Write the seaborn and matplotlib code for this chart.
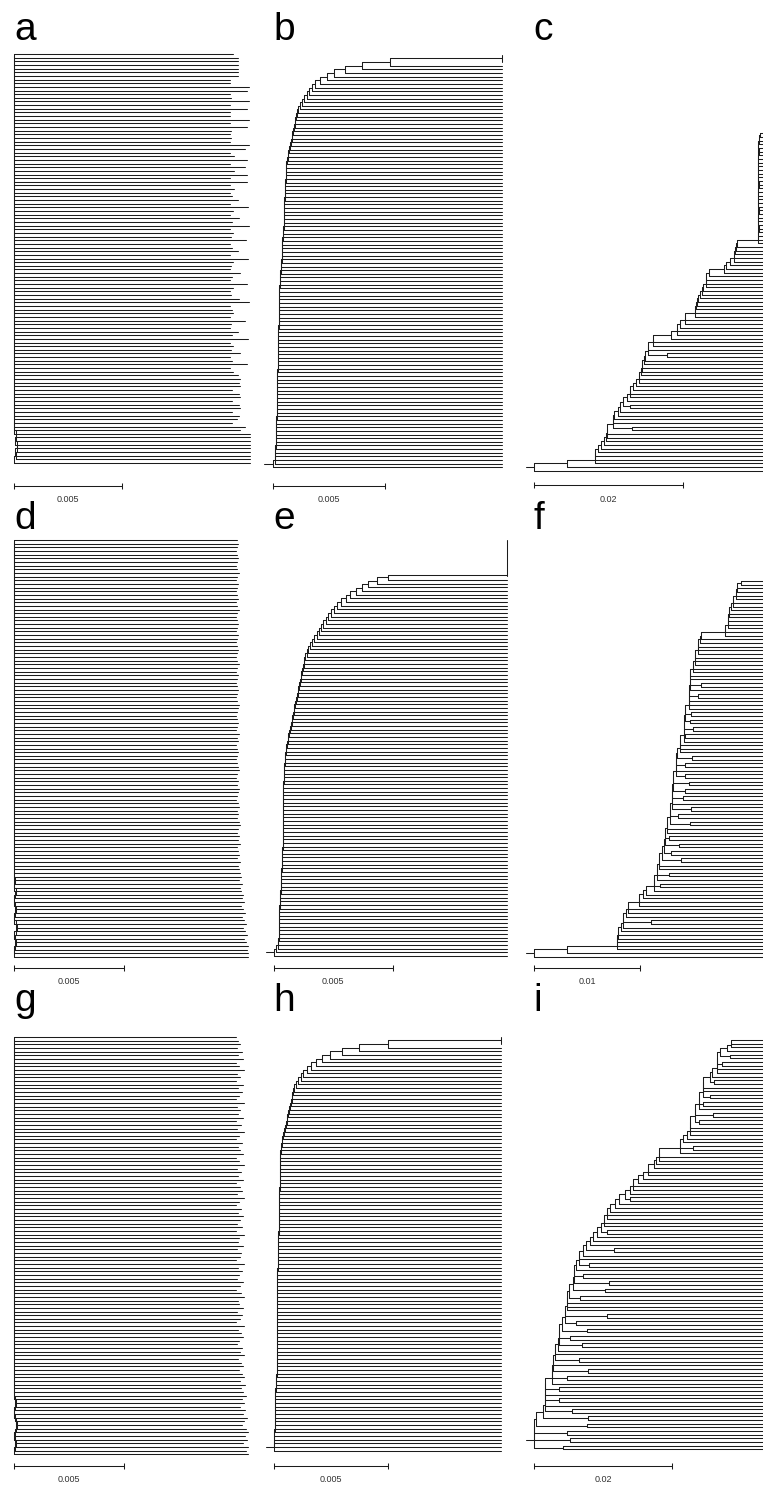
import matplotlib
matplotlib.use("Agg")
import matplotlib.pyplot as plt
import numpy as np
import pandas as pd
import seaborn as sns

# ---------------------------------------------------------------------------
# Tree data. Every tree is drawn as a pectinate ladder:
# leaves top to bottom, NODE[k] is the depth where unit k+1 joins the clade
# above it, TIP the depth of the leaf tips. Units listed in *_CHERRY_AT are a
# pair of sister leaves that split at depth *_CHERRY_X.
# a, b, d, e, g, h in 1e-5 substitutions/site; c, f, i in 1e-4.
# ---------------------------------------------------------------------------

# panel a
A_TIP = [1014, 1037, 1037, 1037, 1037, 1037, 1037, 1000, 1000, 1088, 1079, 1000, 1005,
         1088, 1000, 1079, 1000, 1000, 1088, 1000, 1079, 1005, 1000, 1005, 1000, 1088,
         1070, 1000, 1019, 1079, 1000, 1070, 1019, 1079, 1000, 1079, 1000, 1019, 1000,
         1009, 1037, 1000, 1083, 1014, 1000, 1042, 1009, 1088, 1000, 1014, 1005, 1074,
         1000, 1009, 1037, 1000, 1083, 1014, 1005, 1000, 1046, 1009, 1000, 1079, 1014,
         1000, 1005, 1042, 1088, 1000, 1009, 1014, 1000, 1070, 1005, 1000, 1037, 1009,
         1083, 1000, 1014, 1005, 1046, 1000, 1009, 1079, 1000, 1014, 1037,
         1046, 1042, 1046, 1009, 1042, 1046, 1009, 1042, 1046, 1009, 1042, 1032, 1009,
         1070, 1046, 1093, 1093, 1093, 1093, 1093, 1093, 1093, 1093, 1093]
A_NODE = [0] * 103 + [0, 9, 9, 5, 12, 12, 5, 9, 0]

# panel b
B_TIP = 1022
B_NODE = [522, 397, 321, 272, 241, 210, 187, 174, 161, 150, 140, 131, 121, 113, 106,
          103, 99, 96, 93, 89, 86, 83, 79, 76, 73, 69, 66, 63, 59,
          58, 57, 57, 56, 55, 54, 54, 53, 52, 51, 51, 50, 49, 49,
          48, 47, 47, 45, 44, 44, 42, 41, 40, 39, 38, 38, 36, 35, 34, 33, 32, 31, 30,
          29, 28, 27,
          27, 27, 26, 26, 26, 25, 25, 25, 24, 24, 24, 23, 23, 23, 22, 22, 22, 21, 21,
          21, 20, 20, 20, 19, 19, 19, 18, 18,
          18, 17, 17, 16, 16, 15, 15, 14, 14, 13, 13, 12, 12, 11, 11, 10, 9,
          0]

# panel c
C_TIP = 315
C_NODE = [303, 302, 301,
          300, 300, 301, 300, 300, 300, 300, 300, 300, 300, 300, 301, 300, 300, 300,
          300, 300, 300, 301, 300, 300, 300, 300, 301, 300, 300, 300,
          272, 271, 269, 268, 268, 263, 257, 255, 234, 231, 231, 230, 227, 225, 222,
          220, 218, 217, 216, 216, 202, 202, 196, 192, 192, 184, 159, 159, 153,
          153,
          149, 147, 145, 145, 143, 140, 140, 136, 133, 128, 128, 124,
          119,
          115, 113, 107, 105,
          105,
          98, 98, 96, 93, 89, 86, 81, 81, 81, 44, 0]
C_CHERRY_AT = [59, 72, 77]
C_CHERRY_X = [178, 128, 131]

# panel d
D_TIP = [1014, 1018, 1014, 1009, 1014, 1018, 1014, 1009, 1014, 1023, 1014, 1009, 1018,
         1014, 1009, 1014, 1018, 1009, 1014, 1023, 1014, 1009, 1014, 1018, 1014, 1009,
         1018, 1014, 1009, 1014,
         1018, 1014, 1009, 1014, 1023, 1014, 1009, 1018, 1014, 1009, 1014, 1018, 1014,
         1009, 1014, 1023, 1018, 1014, 1009, 1014, 1018, 1014, 1009, 1023, 1014, 1018,
         1009, 1014, 1018, 1014,
         1009, 1014, 1018, 1023, 1014, 1009, 1018, 1014, 1023, 1018, 1014, 1009, 1018,
         1023, 1014, 1018, 1014, 1023, 1027, 1018, 1014, 1023, 1018, 1027, 1014, 1018,
         1023, 1014, 1027, 1018,
         1023, 1027, 1032, 1023, 1036, 1027, 1032, 1041, 1036, 1045, 1032, 1041, 1050,
         1036, 1045, 1054, 1041, 1050, 1059, 1045, 1054, 1064, 1059, 1064, 1064]
D_NODE = [0] * 92 + [0, 5, 0, 0, 9, 5, 0, 0, 5, 9, 5, 0, 0, 9, 14, 9, 0, 5, 9, 5, 0, 0]

# panel e
E_TIP = 981
E_NODE = [479, 435, 397, 369, 344, 320, 302, 282, 267, 253, 240, 229, 218, 208, 198,
          188, 180, 170, 161, 152, 144, 138, 131,
          128, 125, 122, 118, 115, 112, 109, 106, 102, 99, 96, 93, 90, 86, 83, 80, 77,
          74, 70, 67, 64, 61, 58, 55, 52, 49, 46,
          45, 45, 44, 43, 42, 42, 41, 40, 40, 39,
          39, 38, 38, 38, 37, 37, 37, 37, 37, 36, 36, 36, 36, 36, 36, 35, 35, 35,
          34, 33, 32, 31, 31, 30, 29, 29, 28,
          27, 26, 25, 24, 23, 23, 22, 21, 21,
          20, 20, 19, 19, 18, 18,
          8, 0]

# panel f
F_TIP = 225
F_NODE = [196, 192, 192, 191, 191, 188, 188, 186, 184, 184, 183, 183, 183, 180, 180,
          158, 157, 155, 155, 155, 152, 152, 152, 150, 150, 147, 147,
          147, 147, 146, 146, 146, 146, 143, 143, 142, 142, 142, 138, 138, 138, 135,
          134, 134, 134, 131, 131, 130, 130, 130, 128, 128, 126, 126, 124, 124, 123,
          121, 118, 118, 116, 116, 113, 113, 106, 103, 99, 99, 89, 89, 87, 84, 84, 82,
          79, 79, 78, 78, 78, 31, 0]
F_CHERRY_AT = [27, 29, 33, 34, 35, 36, 41, 42, 44, 45, 46, 47, 49, 50, 51, 54, 55, 56,
               57, 60, 62, 71]
F_CHERRY_X = [158, 155, 148, 147, 150, 143, 149, 143, 143, 146, 143, 141, 148, 136, 147,
              127, 137, 129, 139, 127, 119, 110]

# panel g
G_TIP = [1009, 1018, 1027, 1014, 1036, 1018, 1041, 1009, 1023, 1045, 1014, 1027, 1009,
         1041, 1018, 1036, 1023, 1009, 1045, 1014, 1027, 1018, 1041, 1009, 1032, 1014,
         1045, 1023, 1009, 1036,
         1018, 1027, 1041, 1009, 1023, 1045, 1014, 1032, 1018, 1041, 1009, 1027, 1036,
         1014, 1045, 1023, 1009, 1032, 1018, 1041, 1027, 1014, 1036, 1009, 1045, 1023,
         1018, 1041, 1014, 1032,
         1027, 1009, 1045, 1018, 1036, 1023, 1014, 1041, 1027, 1009, 1032, 1045, 1018,
         1023, 1041, 1014, 1036, 1027, 1009, 1045, 1018, 1032, 1041, 1023, 1014, 1036,
         1027, 1045, 1018, 1032,
         1041, 1023, 1036, 1045, 1027, 1050, 1032, 1041, 1054, 1036, 1045, 1027, 1050,
         1041, 1059, 1045, 1036, 1054, 1064, 1050, 1059, 1041, 1064, 1054, 1064]
G_NODE = [0] * 98 + [0, 5, 9, 5, 0, 0, 5, 9, 14, 9, 5, 0, 5, 9, 5, 0]

# panel h
H_TIP = 997
H_NODE = [500, 374, 298, 246, 210, 185, 161, 144, 129, 117, 107, 97, 88,
          85, 81, 78, 74, 70, 67, 63, 59, 56, 52, 48, 44, 41, 37, 33, 29,
          29, 28, 28, 27, 27, 27, 26, 26, 26, 25, 25, 24, 24, 24, 23, 23, 22, 22,
          22, 21, 21, 20, 20, 19, 19, 18, 18, 17, 16,
          16, 16, 16, 16, 15, 15, 15, 15, 15, 15, 14, 14, 14, 14, 14, 14, 14, 14, 13,
          13, 13, 13, 13, 13, 13, 13, 13, 12, 12, 12, 12, 12,
          11, 10, 9, 8, 7, 6,
          6, 5, 5, 4, 4, 4, 3, 3, 3,
          3, 2, 2, 1, 1,
          0]

# panel i
I_TIP = 345
I_NODE = [285, 285, 279, 269, 265, 265, 265, 257, 254, 245, 245, 245, 239, 239, 233,
          233, 226, 226, 226, 221, 216, 211, 211, 181, 181, 177, 173, 165, 165, 158,
          151, 143, 143, 138, 131, 123, 117, 110, 106, 106, 101, 101, 96, 91, 85, 81,
          75, 70, 65, 65, 61, 58, 58, 56, 51, 47, 47, 47, 44, 44, 40, 36, 36, 35, 30,
          30, 27, 27, 25, 25, 16, 16, 16, 16, 16, 12, 3, 0, 0, 0]
I_CHERRY_AT = [3, 4, 8, 11, 12, 14, 15, 21, 34, 42, 46, 49, 51, 52, 53, 54, 58, 59, 60,
               61, 62, 65, 67, 68, 70, 72, 74, 75, 76, 77, 78, 79]
I_CHERRY_X = [284, 272, 260, 254, 245, 259, 239, 230, 138, 106, 115, 79, 71, 108, 102,
              66, 105, 60, 76, 52, 69, 65, 78, 48, 36, 36, 54, 78, 76, 47, 52, 41]

SCALE_TEXT = {"a": "0.005", "b": "0.005", "c": "0.02",
              "d": "0.005", "e": "0.005", "f": "0.01",
              "g": "0.005", "h": "0.005", "i": "0.02"}
SCALE_LEN = {"a": 0.005, "b": 0.005, "c": 0.02,
             "d": 0.005, "e": 0.005, "f": 0.01,
             "g": 0.005, "h": 0.005, "i": 0.02}

# ---------------------------------------------------------------------------
# layout (pixels of the 763 x 1486 figure)
# ---------------------------------------------------------------------------
W, H = 763, 1486
COLS = [(0, 258), (258, 518), (518, 763)]
ROWS = [(46, 512), (532, 995), (1028, 1486)]
LABEL_Y = [40, 529, 1011]
LABEL_X = [14, 273, 533]
BAR_Y = [485.5, 968, 1466]
BAR_TEXT_Y = [499, 982, 1479]

PANELS = [
    # label, col, row, unit, node, tip, cherry_at, cherry_x, top_rows, attach, stub,
    # root_px, bar_px, first leaf px, leaf step px
    dict(label="a", col=0, row=0, unit=1e-5, node=A_NODE, tip=A_TIP,
         root=14, bar=108, y0=54, step=3.652),
    dict(label="b", col=1, row=0, unit=1e-5, node=B_NODE, tip=B_TIP, top_rows=3,
         attach=1, stub=40, root=273, bar=112, y0=54.7, step=3.652),
    dict(label="c", col=2, row=0, unit=1e-4, node=C_NODE, tip=C_TIP,
         cherry_at=C_CHERRY_AT, cherry_x=C_CHERRY_X, stub=11,
         root=534.3, bar=149, y0=133.3, step=3.667),
    dict(label="d", col=0, row=1, unit=1e-5, node=D_NODE, tip=D_TIP,
         root=14, bar=110, y0=540, step=3.658),
    dict(label="e", col=1, row=1, unit=1e-5, node=E_NODE, tip=E_TIP, top_rows=11,
         attach=9.5, stub=34, root=274, bar=118.7, y0=540, step=3.649),
    dict(label="f", col=2, row=1, unit=1e-4, node=F_NODE, tip=F_TIP,
         cherry_at=F_CHERRY_AT, cherry_x=F_CHERRY_X, stub=8,
         root=534.3, bar=105.7, y0=581, step=3.648),
    dict(label="g", col=0, row=2, unit=1e-5, node=G_NODE, tip=G_TIP,
         root=14, bar=110, y0=1037, step=3.66),
    dict(label="h", col=1, row=2, unit=1e-5, node=H_NODE, tip=H_TIP, top_rows=3,
         attach=1, stub=35, root=274, bar=113.7, y0=1036.7, step=3.664),
    dict(label="i", col=2, row=2, unit=1e-4, node=I_NODE, tip=I_TIP,
         cherry_at=I_CHERRY_AT, cherry_x=I_CHERRY_X, stub=12,
         root=534.3, bar=138, y0=1040, step=3.655),
]

LINE_COLOR = "#1c1c1c"


def tree_segments(node, tip, cherry_at=(), cherry_x=(), top_rows=1, attach=0.0, stub=0):
    """Segments (x0, y0, x1, y1) of a rectangular ladder tree, y in leaf rows."""
    def tip_of(r):
        return tip[r] if np.ndim(tip) else tip

    split = dict(zip(cherry_at, cherry_x))
    segs = []
    t0 = tip_of(0)
    if top_rows > 1:
        segs.append((t0, 0, t0, top_rows - 1))
    clade_y = attach
    row = top_rows
    prev = None
    for k, nx in enumerate(node):
        cx = split.get(k)
        uy = row + 0.5 if cx is not None else row
        segs.append((nx, clade_y, nx, uy))
        segs.append((nx, clade_y, t0 if prev is None else prev, clade_y))
        if cx is None:
            segs.append((nx, uy, tip_of(row), uy))
            row += 1
        else:
            segs.append((nx, uy, cx, uy))
            segs.append((cx, row, cx, row + 1))
            segs.append((cx, row, tip_of(row), row))
            segs.append((cx, row + 1, tip_of(row + 1), row + 1))
            row += 2
        clade_y = (clade_y + uy) / 2
        prev = nx
    if stub:
        segs.append((prev - stub, clade_y, prev, clade_y))
    return segs


sns.set_style("white")
plt.rcParams["font.family"] = ["Liberation Sans", "DejaVu Sans"]

fig = plt.figure(figsize=(W / 100, H / 100), dpi=100)

for p in PANELS:
    x0, x1 = COLS[p["col"]]
    y0, y1 = ROWS[p["row"]]
    ax = fig.add_axes([x0 / W, 1 - y1 / H, (x1 - x0) / W, (y1 - y0) / H])

    unit = p["unit"]
    segs = tree_segments(p["node"], p["tip"], p.get("cherry_at", ()), p.get("cherry_x", ()),
                         p.get("top_rows", 1), p.get("attach", 0.0), p.get("stub", 0))
    rows = []
    for i, (sx0, sy0, sx1, sy1) in enumerate(segs):
        rows.append((i, sx0 * unit, sy0))
        rows.append((i, sx1 * unit, sy1))
    df = pd.DataFrame(rows, columns=["seg", "x", "y"])

    sns.lineplot(data=df, x="x", y="y", units="seg", estimator=None, sort=False,
                 color=LINE_COLOR, linewidth=0.75, legend=False, ax=ax)

    # map pixel layout onto data units
    scale_len = SCALE_LEN[p["label"]]
    per_px = scale_len / p["bar"]
    ax.set_xlim((x0 - p["root"]) * per_px, (x1 - p["root"]) * per_px)
    ax.set_ylim((y1 - p["y0"]) / p["step"], (y0 - p["y0"]) / p["step"])
    ax.set_axis_off()

    # scale bar
    bar_row = (BAR_Y[p["row"]] - p["y0"]) / p["step"]
    text_row = (BAR_TEXT_Y[p["row"]] - p["y0"]) / p["step"]
    ax.plot([0, scale_len], [bar_row, bar_row], color=LINE_COLOR, lw=0.75,
            marker="|", markersize=4.5, markeredgewidth=0.75)
    ax.text(scale_len / 2, text_row, SCALE_TEXT[p["label"]], ha="center", va="center",
            fontsize=6.5, color="#333333")

    fig.text(LABEL_X[p["col"]] / W, 1 - LABEL_Y[p["row"]] / H, p["label"],
             fontsize=28, ha="left", va="baseline", color="black")

fig.savefig("out.png", dpi=100)
